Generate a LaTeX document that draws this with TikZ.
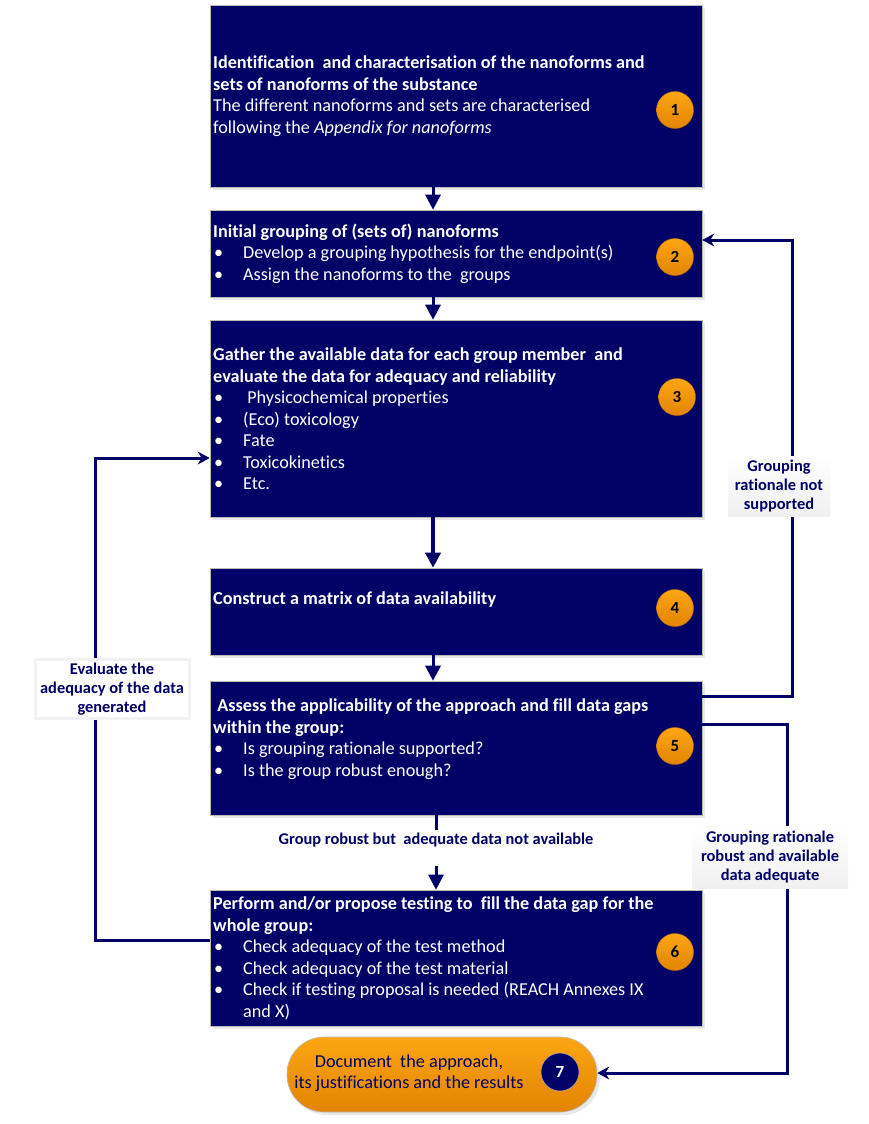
\documentclass[tikz,border=0pt]{standalone}
\usepackage{fontspec}
\setmainfont{Carlito}[Ligatures=NoCommon]
\usetikzlibrary{arrows.meta,shadows,calc}
\definecolor{navy}{RGB}{0,0,102}
\definecolor{orA}{RGB}{252,166,20}
\definecolor{orB}{RGB}{226,132,0}
\newcommand\bul[1]{\makebox[30pt][l]{\hspace{1pt}•}#1}
\tikzset{
  stepbox/.style={draw=gray!55, line width=0.6pt, fill=navy, inner sep=0pt,
    minimum width=492pt, drop shadow={shadow xshift=3pt, shadow yshift=-3pt, fill=gray!35}},
  boxtext/.style={anchor=west, inner sep=0pt, text=white, align=left,
    font=\fontsize{18.2}{21.5}\selectfont},
  numcirc/.style={circle, minimum size=37pt, inner sep=0pt, top color=orA, bottom color=orB,
    draw=orB!85!black, line width=0.4pt, font=\fontsize{17}{17}\selectfont\bfseries},
  conn/.style={draw=navy, line width=3pt},
  vtip/.style={-{Triangle[width=15pt,length=15pt]}},
  stip/.style={-{Stealth[width=13pt,length=12pt,inset=4pt]}},
  lab/.style={align=center, text=navy, inner sep=3pt, font=\fontsize{16.4}{19}\selectfont\bfseries},
}
\begin{document}
\begin{tikzpicture}[x=1pt,y=-1pt]
\useasboundingbox (0,0) rectangle (868,1124);
\fill[white] (0,0) rectangle (868,1124);

% boxes
\node[stepbox, minimum height=182pt] (b1) at (456,96) {};
\node[stepbox, minimum height=87pt] (b2) at (456,253.5) {};
\node[stepbox, minimum height=197pt] (b3) at (456,418.5) {};
\node[stepbox, minimum height=87pt] (b4) at (456,611.5) {};
\node[stepbox, minimum height=134pt] (b5) at (456,748) {};
\node[stepbox, minimum height=136pt] (b6) at (456,958) {};
\node[draw=gray!55, line width=0.6pt, rounded corners=37pt, minimum width=310pt, minimum height=75pt,
  top color=orA, bottom color=orB, inner sep=0pt,
  drop shadow={shadow xshift=3pt, shadow yshift=-3pt, fill=gray!35}] (b7) at (442,1074.5) {};

% texts
\node[boxtext] (t1) at (213,96) {\textbf{Identification\ \ and characterisation of the nanoforms and}\\
\textbf{sets of nanoforms of the substance}\\
The different nanoforms and sets are characterised\\
following the \textit{Appendix for nanoforms}};
\node[boxtext] (t2) at (213,253.5) {\textbf{Initial grouping of (sets of) nanoforms}\\
\bul{Develop a grouping hypothesis for the endpoint(s)}\\
\bul{Assign the nanoforms to the\ \ groups}};
\node[boxtext] (t3) at (213,419) {\textbf{Gather the available data for each group member\ \ and}\\
\textbf{evaluate the data for adequacy and reliability}\\
\bul{\ Physicochemical properties}\\
\bul{(Eco) toxicology}\\
\bul{Fate}\\
\bul{Toxicokinetics}\\
\bul{Etc.}};
\node[boxtext] (t4) at (213,600) {\textbf{Construct a matrix of data availability}};
\node[boxtext] (t5) at (213,739) {\textbf{\ Assess the applicability of the approach and fill data gaps}\\
\textbf{within the group:}\\
\bul{Is grouping rationale supported?}\\
\bul{Is the group robust enough?}};
\node[boxtext] (t6) at (213,958.5) {\textbf{Perform and/or propose testing to\ \ fill the data gap for the}\\
\textbf{whole group:}\\
\bul{Check adequacy of the test method}\\
\bul{Check adequacy of the test material}\\
\bul{Check if testing proposal is needed (REACH Annexes IX}\\
\hspace*{30pt}and X)};
\node[anchor=center, inner sep=0pt, align=center, text=navy, font=\fontsize{18.2}{21.5}\selectfont] (t7) at (409,1073)
  {Document\ \ the approach,\\its justifications and the results};

% number circles
\node[numcirc] (n1) at (675,110) {1};
\node[numcirc] (n2) at (675,257) {2};
\node[numcirc] (n3) at (677,397) {3};
\node[numcirc] (n4) at (675,608) {4};
\node[numcirc] (n5) at (675,746) {5};
\node[numcirc] (n6) at (675,952) {6};
\node[circle, minimum size=38pt, inner sep=0pt, fill=navy, draw=gray!60, line width=0.5pt, text=white,
  font=\fontsize{17}{17}\selectfont\bfseries] (n7) at (560,1072) {7};

% vertical connectors
\draw[conn, vtip] (b1.south -| 433,0) -- (b2.north -| 433,0);
\draw[conn, vtip] (b2.south -| 433,0) -- (b3.north -| 433,0);
\draw[draw=navy, line width=4pt, vtip] (b3.south -| 433,0) -- (b4.north -| 433,0);
\draw[conn, vtip] (b4.south -| 433,0) -- (b5.north -| 433,0);
\node[lab, inner sep=0pt] (lg) at (436,840) {Group robust but\ \ adequate data not available};
\coordinate (lgt) at (436,830);
\coordinate (lgb) at (436,866);
\draw[conn] (b5.south -| lgt) -- (lgt);
\draw[conn, vtip] (lgb) -- (b6.north -| lgb);

% right loop 1 (not supported)
\coordinate (r1a) at (792,696);
\coordinate (r1b) at (792,240);
\draw[conn, stip] (b5.east |- r1a) -- (r1a) -- (r1b) -- (b2.east |- r1b);
\node[lab, top color=white, bottom color=gray!12, minimum width=102pt, minimum height=60pt] (l1) at (779,486)
  {Grouping\\rationale not\\supported};

% right loop 2 (robust)
\coordinate (r2a) at (787,724);
\coordinate (r2b) at (787,1073);
\draw[conn, stip] (b5.east |- r2a) -- (r2a) -- (r2b) -- (b7.east |- r2b);
\node[lab, top color=white, bottom color=gray!12, minimum width=156pt, minimum height=62pt] (l2) at (770,857)
  {Grouping rationale\\robust and available\\data adequate};

% left loop
\coordinate (la) at (95,940);
\coordinate (lb) at (95,458);
\draw[conn, stip] (b6.west |- la) -- (la) -- (lb) -- (b3.west |- lb);
\node[lab, fill=white, draw=gray!10, line width=3pt, minimum width=154pt, minimum height=56pt] (l3) at (112,689)
  {Evaluate the\\adequacy of the data\\generated};
\end{tikzpicture}
\end{document}
